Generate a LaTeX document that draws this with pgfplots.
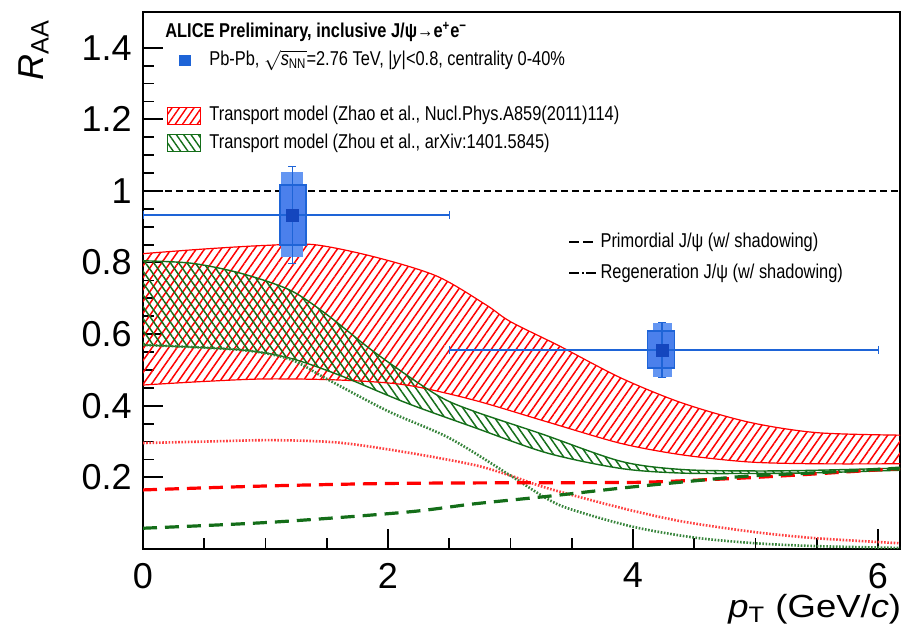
\documentclass[border=0pt]{standalone}
\usepackage{fontspec}
\setmainfont{Liberation Sans}
\newfontfamily\legfont[FakeStretch=0.82]{Liberation Sans}
\newfontfamily\widefont[FakeStretch=1.14]{Liberation Sans}
\usepackage{pgfplots}
\pgfplotsset{compat=1.18}
\usepgfplotslibrary{fillbetween}
\usetikzlibrary{patterns.meta}
\definecolor{zred}{RGB}{255,0,0}
\definecolor{zgreen}{RGB}{20,110,25}
\definecolor{dblue}{RGB}{30,100,215}
\definecolor{lblue}{RGB}{100,150,242}
\definecolor{mblue}{RGB}{75,128,236}
\definecolor{kblue}{RGB}{20,70,190}
\pgfplotstableread{
x y
0 0.825
0.5 0.838
1.0 0.848
1.4 0.850
1.9 0.815
2.4 0.762
2.8 0.682
3.0 0.635
3.4 0.567
3.9 0.478
4.4 0.408
4.95 0.354
5.5 0.325
6.18 0.318
}\zhaoup
\pgfplotstableread{
x y
0 0.458
0.5 0.468
1.0 0.475
1.6 0.472
2.15 0.458
2.7 0.416
3.3 0.355
3.9 0.295
4.4 0.263
4.95 0.243
5.5 0.238
6.18 0.238
}\zhaolo
\pgfplotstableread{
x y
0 0.805
0.4 0.798
0.8 0.770
1.2 0.723
1.5 0.655
1.9 0.547
2.4 0.430
2.7 0.385
3.25 0.322
3.9 0.245
4.4 0.222
5.0 0.218
5.5 0.220
6.18 0.226
}\zhouup
\pgfplotstableread{
x y
0 0.570
0.8 0.556
1.2 0.533
1.6 0.486
2.15 0.408
2.7 0.340
3.3 0.268
3.9 0.225
4.4 0.212
5.0 0.211
5.5 0.213
6.18 0.220
}\zhoulo
\pgfplotstableread{
x y
0 0.296
0.5 0.300
1.06 0.304
1.6 0.297
2.15 0.270
2.7 0.235
3.0 0.205
3.3 0.170
3.9 0.115
4.4 0.077
5.0 0.047
5.5 0.030
6.18 0.016
}\zhaoreg
\pgfplotstableread{
x y
0 0.570
0.8 0.556
1.2 0.530
1.5 0.475
2.0 0.385
2.5 0.310
3.0 0.205
3.3 0.140
3.5 0.110
4.0 0.062
4.5 0.032
5.0 0.016
5.5 0.008
6.18 0.003
}\zhoureg
\pgfplotstableread{
x y
0 0.165
1 0.176
2 0.183
3 0.185
4 0.186
4.5 0.192
5 0.200
5.5 0.210
6.18 0.225
}\zhaoprim
\pgfplotstableread{
x y
0 0.058
1.06 0.075
2.15 0.103
2.7 0.126
3.3 0.147
3.9 0.170
4.4 0.187
4.95 0.204
5.5 0.213
6.18 0.226
}\zhouprim
\begin{document}
\begin{tikzpicture}
\begin{axis}[
  at={(71.5pt,43.5pt)}, anchor=south west,
  scale only axis, width=378.5pt, height=268.5pt,
  xmin=0, xmax=6.18, ymin=0, ymax=1.5,
  xtick={0,2,4,6}, ytick={0.2,0.4,0.6,0.8,1,1.2,1.4},
  minor x tick num=3, minor y tick num=3,
  tick align=inside, tick pos=left,
  major tick length=10pt, minor tick length=5.5pt,
  every tick/.style={black, line width=0.9pt},
  axis line style={line width=1pt},
  /pgf/number format/assume math mode=true,
  ticklabel style={font=\fontsize{18}{20}\selectfont, inner sep=0pt},
  yticklabel style={anchor=east, xshift=-5.5pt},
  xticklabel style={anchor=north, yshift=-6.8pt},
  xlabel={\textit{p}\textsubscript{T} (GeV/\textit{c})},
  xlabel style={font=\widefont\fontsize{16}{18}\selectfont, at={(axis description cs:1.002,-0.127)}, anchor=base east, inner sep=0pt},
  ylabel={\textit{R}\textsubscript{AA}},
  ylabel style={font=\fontsize{18}{20}\selectfont, at={(axis description cs:-0.132,0.986)}, anchor=base east, inner sep=0pt},
  legend style={at={(axis description cs:0.0317,0.928)}, anchor=north west, draw=none, fill=none, inner sep=0pt, outer sep=0pt,
    font=\legfont\fontsize{10}{12}\selectfont, row sep=3.75pt,
    nodes={inner sep=0pt, text height=7.5pt, text depth=2.5pt},
    /tikz/every odd column/.append style={column sep=4pt}},
  legend cell align=left,
]
% Zhao band
\addplot[name path=zhaoU, zred, line width=0.6pt, smooth, forget plot] table {\zhaoup};
\addplot[name path=zhaoL, zred, line width=0.6pt, smooth, forget plot] table {\zhaolo};
\addplot[draw=none, pattern={Lines[angle=55,distance=3.4pt,line width=0.75pt]}, pattern color=zred, forget plot] fill between[of=zhaoU and zhaoL];
% Zhou band
\addplot[name path=zhouU, zgreen, line width=0.7pt, smooth, forget plot] table {\zhouup};
\addplot[name path=zhouL, zgreen, line width=0.7pt, smooth, forget plot] table {\zhoulo};
\addplot[draw=none, pattern={Lines[angle=-55,distance=3.4pt,line width=0.75pt]}, pattern color=zgreen, forget plot] fill between[of=zhouU and zhouL];
% regeneration (dotted)
\addplot[zred!75, line width=1.3pt, dash pattern=on 0.8pt off 0.8pt, smooth, forget plot] table {\zhaoreg};
\addplot[zgreen!85, line width=1.3pt, dash pattern=on 0.8pt off 0.8pt, smooth, forget plot] table {\zhoureg};
% primordial (dashed)
\addplot[zred, line width=1.6pt, dash pattern=on 7pt off 4pt, smooth, forget plot] table {\zhaoprim};
\addplot[zgreen, line width=1.6pt, dash pattern=on 7pt off 4pt, smooth, forget plot] table {\zhouprim};
% unity line
\addplot[black, line width=1pt, dash pattern=on 3.5pt off 2pt, forget plot] coordinates {(0,1) (6.18,1)};
% data: correlated boxes
\addplot[fill=lblue, draw=none, forget plot] coordinates {(1.13,0.816) (1.31,0.816) (1.31,1.053) (1.13,1.053)} -- cycle;
\addplot[fill=lblue, draw=none, forget plot] coordinates {(4.16,0.480) (4.32,0.480) (4.32,0.631) (4.16,0.631)} -- cycle;
% uncorrelated boxes
\addplot[fill=mblue, draw=dblue, line width=0.8pt, forget plot] coordinates {(1.12,0.849) (1.33,0.849) (1.33,1.017) (1.12,1.017)} -- cycle;
\addplot[fill=mblue, draw=dblue, line width=0.8pt, forget plot] coordinates {(4.12,0.506) (4.34,0.506) (4.34,0.609) (4.12,0.609)} -- cycle;
% error bars
\addplot[dblue, line width=0.9pt, only marks, mark=none, forget plot,
  error bars/.cd, x dir=both, x explicit, y dir=both, y explicit,
  error bar style={line width=0.9pt, dblue}]
  coordinates {
  (1.22,0.933) += (1.28,0.135) -= (1.22,0.135)
  (4.24,0.556) += (1.76,0.077) -= (1.74,0.077)
  };
\addplot[only marks, mark=square*, mark size=3pt, color=kblue, forget plot] coordinates {(1.22,0.933) (4.24,0.556)};
% legend
\addlegendimage{only marks, mark=square*, mark size=2.6pt, color=dblue}
\addlegendentry{Pb-Pb, $\sqrt{\mbox{\textit{s}\textsubscript{NN}}}$=2.76 TeV, |\textit{y}|<0.8, centrality 0-40\%}
\addlegendimage{empty legend}
\addlegendentry{}
\addlegendimage{legend image code/.code={\draw[zred, line width=0.6pt, pattern={Lines[angle=55,distance=3pt,line width=0.7pt]}, pattern color=zred] (0pt,-4.25pt) rectangle (16.5pt,4.25pt);}}
\addlegendentry{Transport model (Zhao et al., Nucl.Phys.A859(2011)114)}
\addlegendimage{legend image code/.code={\draw[zgreen, line width=0.6pt, pattern={Lines[angle=-55,distance=3pt,line width=0.7pt]}, pattern color=zgreen] (0pt,-4.25pt) rectangle (16.5pt,4.25pt);}}
\addlegendentry{Transport model (Zhou et al., arXiv:1401.5845)}
\node[anchor=west, inner sep=0pt, font=\legfont\bfseries\fontsize{10}{12}\selectfont] at (axis description cs:0.029,0.963) {ALICE Preliminary, inclusive J/ψ→e\textsuperscript{+}e\textsuperscript{−}};
\end{axis}
\begin{axis}[
  at={(71.5pt,43.5pt)}, anchor=south west,
  scale only axis, width=378.5pt, height=268.5pt,
  xmin=0, xmax=1, ymin=0, ymax=1, hide axis,
  legend style={at={(axis description cs:0.5614,0.590)}, anchor=north west, draw=none, fill=none, inner sep=0pt, outer sep=0pt,
    font=\legfont\fontsize{10}{12}\selectfont, row sep=5.5pt,
    nodes={inner sep=0pt, text height=7.5pt, text depth=2.5pt},
    /tikz/every odd column/.append style={column sep=1.5pt}},
  legend cell align=left,
]
\addplot[draw=none, forget plot] coordinates {(0,0) (1,1)};
\addlegendimage{legend image code/.code={\draw[black, line width=1.3pt, dash pattern=on 5pt off 2pt] (0pt,0pt) -- (13.5pt,0pt);}}
\addlegendentry{Primordial J/ψ (w/ shadowing)}
\addlegendimage{legend image code/.code={\draw[black, line width=1.3pt, dash pattern=on 5pt off 1.3pt on 1pt off 1.3pt] (0pt,0pt) -- (13.5pt,0pt);}}
\addlegendentry{Regeneration J/ψ (w/ shadowing)}
\end{axis}
\pgfresetboundingbox
\path[use as bounding box] (0pt,0pt) rectangle (452pt,318pt);
\end{tikzpicture}
\end{document}
